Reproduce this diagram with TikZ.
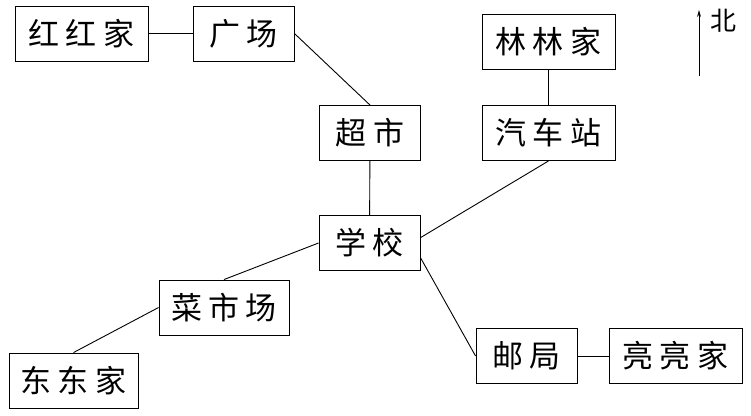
\documentclass[tikz,border=0pt]{standalone}
\usepackage{fontspec}
\newfontfamily\cjk[LetterSpace=20]{Noto Sans CJK SC}
\usetikzlibrary{arrows.meta}

\begin{document}
\begin{tikzpicture}[x=1pt,y=-1pt,line width=0.9pt,
  place/.style={draw,font=\cjk\fontsize{31}{31}\selectfont,minimum height=55pt,inner sep=0pt},
  short/.style={place,minimum width=101pt},
  long/.style={place,minimum width=133pt}]
\useasboundingbox (0,0) rectangle (751,415);
\node[long]  (honghong)    at (81.5,33.5)  {红红家};
\node[short] (guangchang)  at (243.5,33.5) {广场};
\node[long]  (linlin)      at (548.5,41.5) {林林家};
\node[short] (chaoshi)     at (370,133)    {超市};
\node[long]  (qichezhan)   at (548.5,133)  {汽车站};
\node[short] (xuexiao)     at (369.5,243)  {学校};
\node[long,minimum width=130pt] (caishichang) at (224,307.5) {菜市场};
\node[long,minimum width=129pt] (dongdong)    at (73.5,380.5) {东东家};
\node[short] (youju)       at (526.5,356)  {邮局};
\node[long]  (liangliang)  at (675.5,356)  {亮亮家};
\draw (honghong) -- (guangchang);
\draw (guangchang.east) -- (chaoshi.north);
\draw (linlin) -- (qichezhan);
\draw (chaoshi) -- (xuexiao);
\draw (qichezhan.south) -- (xuexiao.6);
\draw (xuexiao.west) -- (caishichang.north);
\draw (caishichang.west) -- (dongdong.north);
\draw (xuexiao.-16) -- (youju.west);
\draw (youju) -- (liangliang);
% north arrow
\coordinate (south) at (699,76);
\coordinate (north) at (699,10);
\draw[-{Stealth[length=7pt,width=4pt]}] (south) -- (north);
\node[font=\cjk\fontsize{26}{26}\selectfont] (bei) at (723,21) {北};
\end{tikzpicture}
\end{document}
